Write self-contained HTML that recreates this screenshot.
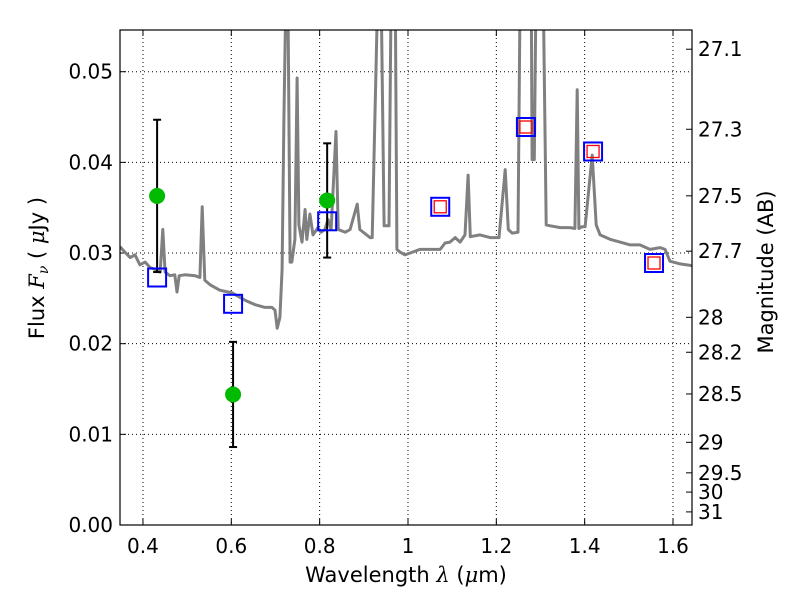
<!DOCTYPE html>
<html><head><meta charset="utf-8"><style>
body{margin:0;background:#fff;width:800px;height:600px;overflow:hidden;font-family:"DejaVu Sans","Liberation Sans",sans-serif}
</style></head><body>
<svg id="chart" width="800" height="600" xmlns="http://www.w3.org/2000/svg" font-family="DejaVu Sans, Liberation Sans, sans-serif"></svg>
<script>
const specWl=[0.348,0.359,0.371,0.382,0.393,0.405,0.416,0.427,0.439,0.445,0.450,0.461,0.472,0.477,0.482,0.495,0.518,0.529,0.534,0.540,0.552,0.574,0.602,0.631,0.654,0.676,0.692,0.699,0.704,0.710,0.715,0.719,0.724,0.728,0.733,0.737,0.744,0.749,0.753,0.760,0.767,0.771,0.778,0.785,0.796,0.803,0.812,0.819,0.826,0.837,0.842,0.858,0.869,0.885,0.891,0.914,0.919,0.932,0.939,0.946,0.957,0.962,0.971,0.975,0.982,0.993,1.005,1.027,1.073,1.084,1.095,1.107,1.118,1.129,1.136,1.141,1.163,1.186,1.206,1.220,1.227,1.236,1.249,1.254,1.279,1.281,1.286,1.290,1.306,1.313,1.322,1.345,1.367,1.378,1.383,1.387,1.394,1.401,1.417,1.426,1.435,1.458,1.480,1.503,1.525,1.548,1.571,1.582,1.593,1.616,1.643];
const specFlux=[0.0307,0.0301,0.0295,0.0298,0.0287,0.0290,0.0284,0.0282,0.0279,0.0326,0.0279,0.0275,0.0276,0.0257,0.0275,0.0276,0.0275,0.0273,0.0351,0.0270,0.0265,0.0259,0.0256,0.0248,0.0243,0.0240,0.0240,0.0237,0.0217,0.0229,0.0282,0.0447,0.060,0.060,0.0290,0.0290,0.0315,0.0493,0.0331,0.0312,0.0348,0.0315,0.0343,0.0320,0.0328,0.0323,0.0326,0.0337,0.0326,0.0434,0.0326,0.0323,0.0326,0.0354,0.0326,0.0317,0.0317,0.060,0.060,0.0330,0.0330,0.060,0.060,0.0304,0.0301,0.0298,0.0300,0.0304,0.0304,0.0311,0.0312,0.0317,0.0312,0.0320,0.0386,0.0318,0.0320,0.0317,0.0317,0.0392,0.0326,0.0322,0.0323,0.060,0.060,0.0403,0.0403,0.060,0.060,0.0331,0.0330,0.0328,0.0328,0.0327,0.0480,0.0327,0.0329,0.0329,0.0408,0.0331,0.0320,0.0315,0.0312,0.0309,0.0309,0.0304,0.0306,0.0304,0.0291,0.0288,0.0286];
const photWl=[0.432,0.604,0.817];
const photFlux=[0.0363,0.0144,0.0358];
const photErr=[0.0084,0.0058,0.0063];
const modelWl=[0.432,0.604,0.817,1.073,1.267,1.419,1.557];
const modelFlux=[0.0273,0.0244,0.0335,0.0351,0.0439,0.0412,0.0289];
const fitWl=[1.073,1.267,1.419,1.557];
const fitFlux=[0.0351,0.0439,0.0412,0.0289];
const xTicks=[0.4,0.6,0.8,1.0,1.2,1.4,1.6];
const xTickLabels=["0.4","0.6","0.8","1","1.2","1.4","1.6"];
const yTicks=[0,0.01,0.02,0.03,0.04,0.05];
const yTickLabels=["0.00","0.01","0.02","0.03","0.04","0.05"];
const magTicks=[27.1,27.3,27.5,27.7,28,28.2,28.5,29,29.5,30,31];

const L=120,R=692,T=30,B=525,X0=0.348,X1=1.643,Y0=0,Y1=0.0546;
const sx=v=>L+(v-X0)/(X1-X0)*(R-L);
const sy=v=>B-(v-Y0)/(Y1-Y0)*(B-T);
const svg=document.getElementById('chart');
const NS='http://www.w3.org/2000/svg';
function mk(tag,at,parent){const e=document.createElementNS(NS,tag);for(const k in at)e.setAttribute(k,at[k]);(parent||svg).appendChild(e);return e;}
const defs=mk('defs',{});const cp=mk('clipPath',{id:'clip'},defs);mk('rect',{x:L,y:T,width:R-L,height:B-T},cp);
xTicks.forEach((t,i)=>{const x=sx(t);
 const g=mk('line',{x1:x,x2:x,y1:T,y2:B,stroke:'#000','stroke-width':1,'stroke-dasharray':'1,3'});
 
 mk('line',{x1:x,x2:x,y1:B,y2:B-6,stroke:'#000'});mk('line',{x1:x,x2:x,y1:T,y2:T+6,stroke:'#000'});
 const tx=mk('text',{x:x,y:B+28,'font-size':20,'text-anchor':'middle'});tx.textContent=xTickLabels[i];
 });
yTicks.forEach((t,i)=>{const y=sy(t);
 const g=mk('line',{x1:L,x2:R,y1:y,y2:y,stroke:'#000','stroke-width':1,'stroke-dasharray':'1,3'});
 
 mk('line',{x1:L,x2:L+6,y1:y,y2:y,stroke:'#000'});
 const tx=mk('text',{x:L-7,y:y+7,'font-size':20,'text-anchor':'end'});tx.textContent=yTickLabels[i];
 });
magTicks.forEach(m=>{const f=Math.pow(10,(23.9-m)/2.5);const y=sy(f);
 mk('line',{x1:R,x2:R-6,y1:y,y2:y,stroke:'#000'});
 const tx=mk('text',{x:R+6,y:y+7,'font-size':20});tx.textContent=String(m);
 });
const pts=specWl.map((w,i)=>sx(w).toFixed(1)+','+sy(specFlux[i]).toFixed(1)).join(' ');
const sp=mk('polyline',{points:pts,fill:'none',stroke:'#808080','stroke-width':3,'clip-path':'url(#clip)','stroke-linejoin':'round'});

photWl.forEach((w,i)=>{const x=sx(w),y1=sy(photFlux[i]+photErr[i]),y2=sy(photFlux[i]-photErr[i]);
 const g=mk('g',{stroke:'#000','stroke-width':2});
 mk('line',{x1:x,x2:x,y1:y1,y2:y2},g);mk('line',{x1:x-4,x2:x+4,y1:y1,y2:y1},g);mk('line',{x1:x-4,x2:x+4,y1:y2,y2:y2},g);});
modelWl.forEach((w,i)=>{const r=mk('rect',{x:sx(w)-9,y:sy(modelFlux[i])-9,width:18,height:18,fill:'none',stroke:'#0000ff','stroke-width':2});
 });
fitWl.forEach((w,i)=>{const r=mk('rect',{x:sx(w)-6,y:sy(fitFlux[i])-6,width:12,height:12,fill:'none',stroke:'#ff0000','stroke-width':1.3});
 });
photWl.forEach((w,i)=>{const c=mk('circle',{cx:sx(w),cy:sy(photFlux[i]),r:8,fill:'#00bb00'});
 });
const fr=mk('rect',{x:L,y:T,width:R-L,height:B-T,fill:'none',stroke:'#000','stroke-width':1.2});

let t=mk('text',{x:406,y:582,'font-size':21,'text-anchor':'middle'});t.innerHTML='Wavelength  <tspan font-style="italic" font-family="DejaVu Serif">λ</tspan> (<tspan font-style="italic" font-family="DejaVu Serif">μ</tspan>m)';

t=mk('text',{x:0,y:0,'font-size':21,'text-anchor':'middle',transform:'translate(44,268) rotate(-90)'});t.innerHTML='Flux  <tspan font-style="italic" font-family="DejaVu Serif">F</tspan><tspan font-size="14" dy="4" font-style="italic" font-family="DejaVu Serif">ν</tspan><tspan dy="-4">  (  </tspan><tspan font-style="italic" font-family="DejaVu Serif">μ</tspan>Jy )';

t=mk('text',{x:0,y:0,'font-size':21,'text-anchor':'middle',transform:'translate(773,272) rotate(-90)'});t.textContent='Magnitude (AB)';

</script>
</body></html>
